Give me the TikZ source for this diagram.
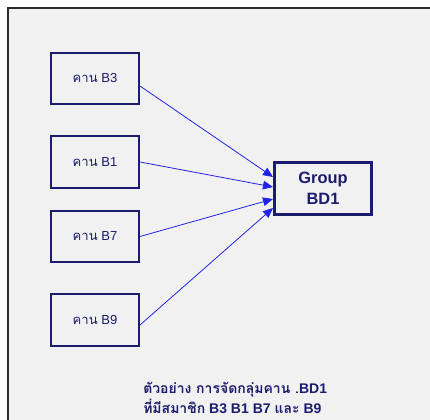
\documentclass[tikz,border=0pt]{standalone}
\usepackage{fontspec}
\setmainfont{Liberation Sans}
\newfontfamily\thai[Script=Thai]{Loma}
\usetikzlibrary{arrows.meta}
\definecolor{panel}{HTML}{F1F1F1}
\definecolor{frameline}{HTML}{2A2A2A}
\definecolor{navy}{HTML}{1C1C6E}
\definecolor{link}{HTML}{2323E6}
\tikzset{
  beam/.style={draw=navy, line width=1.5pt, minimum width=66pt, minimum height=38.5pt,
    inner sep=0pt, text=navy, font=\fontsize{9.8}{11}\selectfont},
  groupbox/.style={draw=navy, line width=2pt, minimum width=73pt, minimum height=39pt,
    inner sep=0pt, align=center, text=navy, font=\fontsize{12.3}{15.5}\selectfont\bfseries},
  feed/.style={draw=link, line width=0.6pt, -{Triangle[length=7.5pt,width=6.5pt]}},
  caption/.style={anchor=north west, align=left, text=navy,
    font=\fontsize{10.5}{15}\selectfont\bfseries, inner sep=0pt}
}
\begin{document}
\begin{tikzpicture}[x=0.75pt,y=-0.75pt]
  % page and panel
  \fill[white] (0,0) rectangle (430,420);
  \useasboundingbox (0,0) rectangle (430,420);
  \fill[panel] (8,8) rectangle (430,420);
  \draw[frameline, line width=1.6pt] (8,420) -- (8,8) -- (430,8);

  % member beams
  \node[beam] (b3) at (95,78.5) {{\thai คาน} B3};
  \node[beam] (b1) at (95,162) {{\thai คาน} B1};
  \node[beam] (b7) at (95,236.5) {{\thai คาน} B7};
  \node[beam] (b9) at (95,320) {{\thai คาน} B9};

  % group
  \node[groupbox] (g) at (323,188.5) {Group\\BD1};

  % links from each beam into the group
  \draw[feed] (b3.east |- 0,86) -- (g.west |- 0,177);
  \draw[feed] (b1.east) -- (g.west |- 0,187);
  \draw[feed] (b7.east) -- (g.west |- 0,199);
  \draw[feed] (b9.east |- 0,325) -- (g.west |- 0,208);

  % caption
  \node[caption] (cap) at (143,382) {{\thai ตัวอย่าง การจัดกลุ่มคาน .}BD1\\{\thai ที่มีสมาชิก} B3 B1 B7 {\thai และ} B9};
\end{tikzpicture}
\end{document}
